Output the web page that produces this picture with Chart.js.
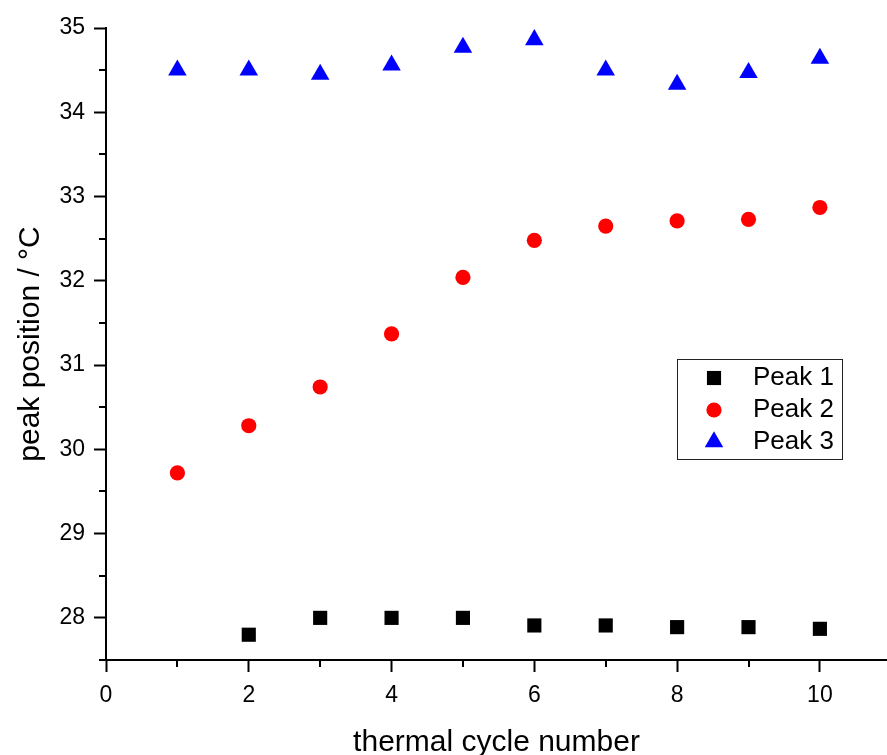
<!DOCTYPE html>
<html>
<head>
<meta charset="utf-8">
<title>peak position vs thermal cycle</title>
<script src="https://cdn.jsdelivr.net/npm/chart.js@4/dist/chart.umd.min.js"></script>
<style>
  html, body { margin: 0; padding: 0; background: #fff; overflow: hidden; }
  canvas { display: block; }
</style>
</head>
<body>
<canvas id="chart" width="887" height="755"></canvas>
<script>
// peak positions (°C) per thermal cycle
const peak1Cycles = [2, 3, 4, 5, 6, 7, 8, 9, 10];
const peak1 = [27.80, 28.00, 28.00, 28.00, 27.91, 27.91, 27.89, 27.89, 27.87];

const peak2Cycles = [1, 2, 3, 4, 5, 6, 7, 8, 9, 10];
const peak2 = [29.72, 30.28, 30.74, 31.37, 32.04, 32.48, 32.65, 32.71, 32.73, 32.87];

const peak3Cycles = [1, 2, 3, 4, 5, 6, 7, 8, 9, 10];
const peak3 = [34.50, 34.50, 34.45, 34.56, 34.77, 34.86, 34.50, 34.33, 34.47, 34.64];

// axis ticks
const xTicks = [0, 2, 4, 6, 8, 10];
const xMinorTicks = [1, 3, 5, 7, 9];
const yTicks = [28, 29, 30, 31, 32, 33, 34, 35];
const yMinorTicks = [27.5, 28.5, 29.5, 30.5, 31.5, 32.5, 33.5, 34.5];

const FONT = "'Liberation Sans', Arial, sans-serif";

const el = (id) => document.getElementById(id);
const toPoints = (xs, ys) => xs.map((x, i) => ({ x, y: ys[i] }));

// small outward minor ticks on both axes
const minorTicks = {
  id: "minorTicks",
  afterDraw(chart){
    const { ctx, chartArea, scales } = chart;
    ctx.save();
    ctx.strokeStyle = "#000";
    ctx.lineWidth = 2;
    ctx.beginPath();
    xMinorTicks.forEach(v => {
      const px = Math.round(scales.x.getPixelForValue(v));
      ctx.moveTo(px, chartArea.bottom);
      ctx.lineTo(px, chartArea.bottom + 7);
    });
    yMinorTicks.forEach(v => {
      const py = Math.round(scales.y.getPixelForValue(v));
      ctx.moveTo(chartArea.left - 7, py);
      ctx.lineTo(chartArea.left, py);
    });
    ctx.stroke();
    ctx.restore();
  }
};

// boxed legend sitting inside the plot, right of centre
const boxLegend = {
  id: "boxLegend",
  afterDraw(chart){
    const { ctx } = chart;
    const box = { left: 677, top: 359, width: 165, height: 100 };
    ctx.save();
    ctx.strokeStyle = "#222";
    ctx.lineWidth = 1;
    ctx.strokeRect(box.left + 0.5, box.top + 0.5, box.width, box.height);
    ctx.font = "26px " + FONT;
    ctx.textBaseline = "middle";
    chart.data.datasets.forEach((ds, i) => {
      const y = box.top + 19 + i * 32;
      ctx.fillStyle = ds.backgroundColor;
      ctx.strokeStyle = ds.backgroundColor;
      Chart.helpers.drawPoint(ctx, { pointStyle: ds.pointStyle, radius: ds.pointRadius, borderWidth: 0 }, 714, y);
      ctx.fillStyle = "#000";
      ctx.fillText(ds.label, 753, y);
    });
    ctx.restore();
  }
};

function dataset(label, xs, ys, color, style, radius){
  return {
    label,
    data: toPoints(xs, ys),
    pointStyle: style,
    pointRadius: radius,
    pointHoverRadius: radius,
    pointBorderWidth: 0,
    backgroundColor: color,
    borderColor: color,
    showLine: false,
    clip: false
  };
}

function init(){
  new Chart(el("chart").getContext("2d"), {
    type: "scatter",
    data: {
      datasets: [
        dataset("Peak 1", peak1Cycles, peak1, "#000000", "rect", 10),
        dataset("Peak 2", peak2Cycles, peak2, "#ff0000", "circle", 7.6),
        dataset("Peak 3", peak3Cycles, peak3, "#0000ff", "triangle", 10.7)
      ]
    },
    options: {
      responsive: false,
      animation: false,
      devicePixelRatio: 1,
      layout: { autoPadding: false, padding: { top: 28, right: 0, left: 0, bottom: 0 } },
      plugins: { legend: { display: false }, tooltip: { enabled: false } },
      scales: {
        x: {
          type: "linear",
          position: "bottom",
          min: 0,
          max: 10.94,
          border: { color: "#000", width: 2 },
          grid: { drawOnChartArea: false, drawTicks: true, tickLength: 12, tickWidth: 2, tickColor: "#000" },
          ticks: { color: "#000", font: { family: FONT, size: 23 }, padding: 10, maxRotation: 0 },
          title: { display: true, text: "thermal cycle number", color: "#000",
                   font: { family: FONT, size: 30, lineHeight: 0.8 }, padding: { top: 0, bottom: 0 } },
          afterBuildTicks(scale){ scale.ticks = xTicks.map(v => ({ value: v })); },
          afterFit(scale){
            scale.height = 95;
            scale.paddingLeft = 0;
            scale.paddingRight = 0;
          }
        },
        y: {
          type: "linear",
          position: "left",
          min: 27.5,
          max: 35,
          border: { color: "#000", width: 2 },
          grid: { drawOnChartArea: false, drawTicks: true, tickLength: 12, tickWidth: 2, tickColor: "#000" },
          ticks: { color: "#000", font: { family: FONT, size: 23 }, padding: 9 },
          title: { display: true, text: "peak position / °C", color: "#000",
                   font: { family: FONT, size: 30 }, padding: { top: 13, bottom: 0 } },
          afterBuildTicks(scale){ scale.ticks = yTicks.map(v => ({ value: v })); },
          afterFit(scale){
            scale.width = 106;
            scale.paddingTop = 0;
            scale.paddingBottom = 0;
          }
        }
      }
    },
    plugins: [minorTicks, boxLegend]
  });
}

document.addEventListener("DOMContentLoaded", init);
</script>
</body>
</html>
